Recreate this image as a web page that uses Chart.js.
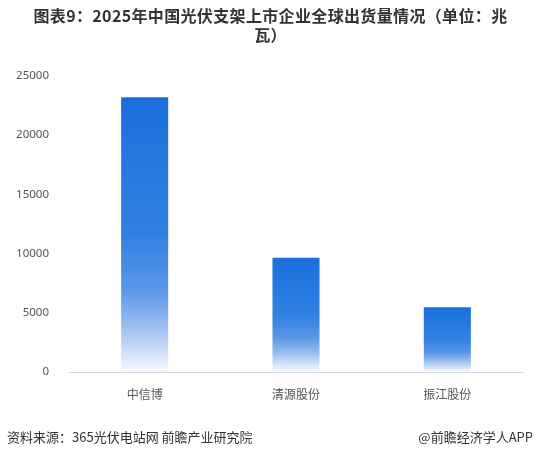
<!DOCTYPE html>
<html><head><meta charset="utf-8">
<script src="https://cdn.jsdelivr.net/npm/chart.js@4"></script>
<style>
html,body{margin:0;padding:0;background:#fff;}
#wrap{position:relative;width:541px;height:457px;overflow:hidden;font-family:"Noto Sans CJK SC","Noto Sans",sans-serif;}
#title{position:absolute;left:10px;top:6px;width:521px;text-align:center;font-weight:bold;font-size:16px;letter-spacing:0.35px;line-height:19px;color:#333;}
#src{position:absolute;left:7px;top:427px;font-size:13px;color:#333;}
#app{position:absolute;right:8px;top:427px;font-size:13px;color:#333;}
canvas{position:absolute;left:0;top:0;}
</style></head>
<body><div id="wrap">
<canvas id="c" width="541" height="457"></canvas>
<div id="title">图表9：2025年中国光伏支架上市企业全球出货量情况（单位：兆<br>瓦）</div>
<div id="src">资料来源：365光伏电站网 前瞻产业研究院</div>
<div id="app">@前瞻经济学人APP</div>
</div>
<script>
const categories = ['中信博', '清源股份', '振江股份'];
const shipments = [23200, 9650, 5470];
const yTicks = [0, 5000, 10000, 15000, 20000, 25000];

function barGradient(ctx) {
  const chart = ctx.chart;
  const ys = chart.scales.y;
  if (!ys || !chart.chartArea || ctx.raw == null) return '#1a6fdd';
  const top = ys.getPixelForValue(ctx.raw);
  const base = ys.getPixelForValue(0);
  const g = chart.ctx.createLinearGradient(0, top, 0, base);
  g.addColorStop(0, '#1a6fdd');
  g.addColorStop(0.5, '#3181e2');
  g.addColorStop(0.7, '#5a96e8');
  g.addColorStop(0.86, '#aac7f2');
  g.addColorStop(1, '#f7faff');
  return g;
}

new Chart(document.getElementById('c'), {
  type: 'bar',
  data: {
    labels: categories,
    datasets: [{
      data: shipments,
      backgroundColor: barGradient,
      borderWidth: 0,
      barPercentage: 0.311,
      categoryPercentage: 1
    }]
  },
  options: {
    responsive: false,
    animation: false,
    layout: { padding: { left: 0, right: 18, top: 76, bottom: 40 } },
    plugins: { legend: { display: false }, tooltip: { enabled: false } },
    scales: {
      x: {
        grid: { display: false },
        border: { display: true, color: '#d6d6d6', width: 1 },
        ticks: { color: '#555', padding: 7, font: { size: 12, family: '"Noto Sans CJK SC", sans-serif' } },
        afterFit: s => { s.height = 45; }
      },
      y: {
        min: 0, max: 25000,
        afterBuildTicks: s => { s.ticks = yTicks.map(v => ({ value: v })); },
        grid: { display: false },
        border: { display: false },
        ticks: { color: '#555', padding: 12, font: { size: 11.5, family: '"Noto Sans", sans-serif' },
                 callback: v => String(v) },
        afterFit: s => { s.width = 69; }
      }
    }
  }
});
</script>
</body></html>
